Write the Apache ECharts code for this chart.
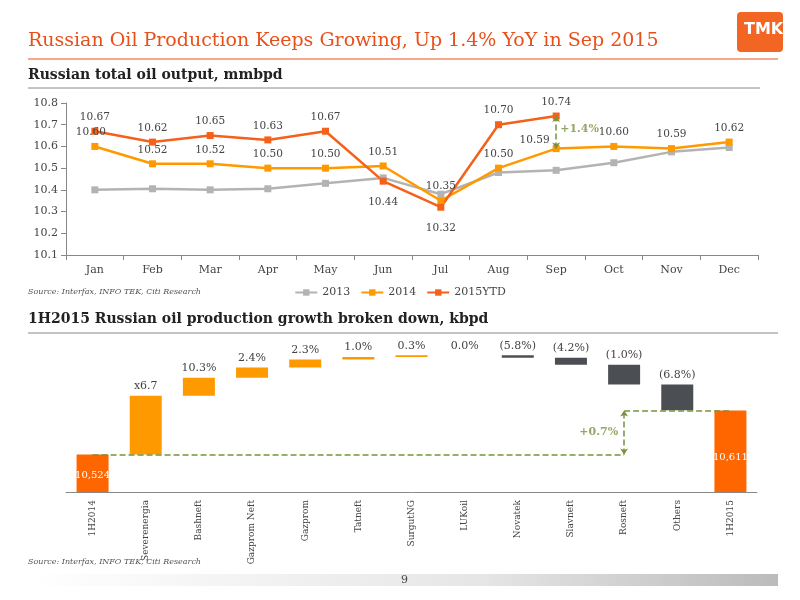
<!DOCTYPE html>
<html><head><meta charset="utf-8">
<script src="https://cdn.jsdelivr.net/npm/echarts@6/dist/echarts.min.js"></script>
<style>html,body{margin:0;padding:0;background:#fff}#c{width:800px;height:600px}</style>
</head><body><div id="c"></div>
<script>
const months = ['Jan','Feb','Mar','Apr','May','Jun','Jul','Aug','Sep','Oct','Nov','Dec'];
const s2013 = [10.40,10.405,10.40,10.405,10.43,10.455,10.38,10.48,10.49,10.525,10.575,10.595];
const s2014 = [10.60,10.52,10.52,10.50,10.50,10.51,10.35,10.50,10.59,10.60,10.59,10.62];
const s2015 = [10.67,10.62,10.65,10.63,10.67,10.44,10.32,10.70,10.74];
const yTicks = [10.1,10.2,10.3,10.4,10.5,10.6,10.7,10.8];

const companies = ['1H2014','Severenergia','Bashneft','Gazprom Neft','Gazprom','Tatneft','SurgutNG','LUKoil','Novatek','Slavneft','Rosneft','Others','1H2015'];
const changes = [10524,116,36,20,16,5,3,0.4,-5,-14,-39,-51,10611];
const changeLabels = ['10,524','x6.7','10.3%','2.4%','2.3%','1.0%','0.3%','0.0%','(5.8%)','(4.2%)','(1.0%)','(6.8%)','10,611'];

const serif = 'DejaVu Serif';
const ORANGE = '#FF9900', GREY = '#B3B3B3', DARK = '#4B4F54', GREEN = '#76923C';

const base = [], vis = [], colors = [];
let run = 0;
changes.forEach((v,i)=>{
  if(i===0 || i===changes.length-1){ base.push(0); vis.push(v); colors.push('#FF6600'); run = v; }
  else if(v>=0){ base.push(run); vis.push(v); colors.push(ORANGE); run += v; }
  else { run += v; base.push(run); vis.push(-v); colors.push(DARK); }
});
const YMIN = 10450;
const baseAdj = base.map((b,i)=> (i===0||i===changes.length-1)? YMIN : b);
const visAdj = vis.map((v,i)=> (i===0||i===changes.length-1)? v - YMIN : v);

const chart = echarts.init(document.getElementById('c'));
chart.setOption({
  animation:false,
  graphic:[
    {type:'text',left:28,top:32,style:{text:'Russian Oil Production Keeps Growing, Up 1.4% YoY in Sep 2015',font:'19px "DejaVu Serif"',fill:'#E8501A'}},
    {type:'line',shape:{x1:28,y1:59,x2:778,y2:59},style:{stroke:'#E8501A',lineWidth:1}},
    {type:'rect',shape:{x:737,y:12,width:46,height:40,r:4},style:{fill:'#F26522'}},
    {type:'text',left:744,top:22,style:{text:'TMK',font:'bold 16px "DejaVu Sans"',fill:'#fff'}},
    {type:'text',left:28,top:68,style:{text:'Russian total oil output, mmbpd',font:'bold 14px "DejaVu Serif"',fill:'#222'}},
    {type:'line',shape:{x1:28,y1:88,x2:760,y2:88},style:{stroke:'#888',lineWidth:1}},
    {type:'text',left:28,top:288,style:{text:'Source: Interfax, INFO TEK, Citi Research',font:'italic 8px "DejaVu Serif"',fill:'#555'}},
    {type:'text',left:28,top:312,style:{text:'1H2015 Russian oil production growth broken down, kbpd',font:'bold 14px "DejaVu Serif"',fill:'#222'}},
    {type:'line',shape:{x1:28,y1:333,x2:778,y2:333},style:{stroke:'#888',lineWidth:1}},
    {type:'text',left:28,top:558,style:{text:'Source: Interfax, INFO TEK, Citi Research',font:'italic 8px "DejaVu Serif"',fill:'#555'}},
    {type:'rect',shape:{x:28,y:574,width:750,height:12},style:{fill:new echarts.graphic.LinearGradient(0,0,1,0,[{offset:0,color:'#fff'},{offset:0.6,color:'#e6e6e6'},{offset:1,color:'#bbb'}])}},
    {type:'text',left:401,top:575,style:{text:'9',font:'11px "DejaVu Serif"',fill:'#444'}}
  ],
  legend:{data:['2013','2014','2015YTD'],top:282,left:'center',itemWidth:22,itemHeight:8,itemGap:10,textStyle:{fontFamily:serif,fontSize:11,color:'#444'}},
  grid:[{left:66,right:42,top:103,bottom:345},{left:66,right:43,top:325,bottom:108}],
  xAxis:[
    {type:'category',data:months,gridIndex:0,axisLine:{lineStyle:{color:'#888'}},axisTick:{show:true,lineStyle:{color:'#888'}},axisLabel:{fontFamily:serif,fontSize:11,color:'#444',margin:10}},
    {type:'category',data:companies,gridIndex:1,axisLine:{lineStyle:{color:'#888'}},axisTick:{show:false},axisLabel:{rotate:90,fontFamily:serif,fontSize:9,color:'#444',margin:8,interval:0}}
  ],
  yAxis:[
    {type:'value',gridIndex:0,min:10.1,max:10.8,interval:0.1,splitLine:{show:false},axisLine:{show:true,lineStyle:{color:'#888'}},axisTick:{show:true,lineStyle:{color:'#888'}},axisLabel:{fontFamily:serif,fontSize:11,color:'#444',formatter:v=>v.toFixed(1)}},
    {type:'value',gridIndex:1,min:YMIN,max:10780,show:false,splitLine:{show:false}}
  ],
  series:[
    {name:'2013',type:'line',data:s2013,color:GREY,symbol:'rect',symbolSize:7,lineStyle:{width:2.5},xAxisIndex:0,yAxisIndex:0},
    {name:'2014',type:'line',color:ORANGE,symbol:'rect',symbolSize:7,lineStyle:{width:2.5},
     label:{show:true,position:'top',fontFamily:serif,fontSize:10.5,color:'#444',formatter:p=>p.value.toFixed(2)},
     data:s2014.map((v,i)=> i===8 ? {value:v,label:{position:'left',offset:[2,-8]}} : i===0 ? {value:v,label:{offset:[-4,0]}} : v),
     xAxisIndex:0,yAxisIndex:0},
    {name:'2015YTD',type:'line',color:'#F4611B',symbol:'rect',symbolSize:7,lineStyle:{width:2.5},
     label:{show:true,fontFamily:serif,fontSize:10.5,color:'#444',formatter:p=>p.value.toFixed(2),position:'top'},
     data:s2015.map((v,i)=>({value:v,label:{position:(i===5||i===6)?'bottom':'top',distance:(i===5||i===6)?12:5}})),
     markLine:{symbol:['arrow','arrow'],symbolSize:6,silent:true,lineStyle:{color:GREEN,type:'dashed',width:1.5},label:{show:false},
       data:[[{coord:['Sep',s2014[8]]},{coord:['Sep',s2015[8]]}]]},
     xAxisIndex:0,yAxisIndex:0},
    {type:'scatter',xAxisIndex:0,yAxisIndex:0,symbolSize:0,silent:true,
     data:[{value:['Sep',10.68],label:{show:true,position:'right',distance:4,formatter:'+1.4%',color:GREEN,fontFamily:serif,fontSize:11,fontWeight:'bold'}}]},
    {type:'bar',stack:'w',data:baseAdj,xAxisIndex:1,yAxisIndex:1,itemStyle:{color:'transparent'},barWidth:32,silent:true},
    {type:'bar',stack:'w',xAxisIndex:1,yAxisIndex:1,barWidth:32,
     data:visAdj.map((v,i)=>{
       const tot = (i===0||i===changes.length-1);
       return {value:v,itemStyle:{color:colors[i]},
        label:{show:true,formatter:changeLabels[i],position:tot?'insideBottom':'top',distance:tot?(i===0?12:30):4,
          color:tot?'#fff':'#444',fontFamily:serif,fontSize:tot?10:11}};
     }),
     markLine:{silent:true,symbol:'none',lineStyle:{color:GREEN,type:'dashed',width:1.5},label:{show:false},
       data:[
         [{coord:['1H2014',10524]},{coord:['Rosneft',10524]}],
         [{coord:['Rosneft',10611]},{coord:['1H2015',10611]}]
       ]}
    },
    {type:'scatter',xAxisIndex:1,yAxisIndex:1,symbolSize:0,silent:true,
     data:[{value:['Rosneft',(10524+10611)/2],label:{show:true,position:'left',distance:6,formatter:'+0.7%',color:GREEN,fontFamily:serif,fontSize:11,fontWeight:'bold'}}],
     markLine:{silent:true,symbol:['arrow','arrow'],symbolSize:6,lineStyle:{color:GREEN,type:'dashed',width:1.5},label:{show:false},
       data:[[{coord:['Rosneft',10524]},{coord:['Rosneft',10611]}]]}}
  ]
});
</script></body></html>
